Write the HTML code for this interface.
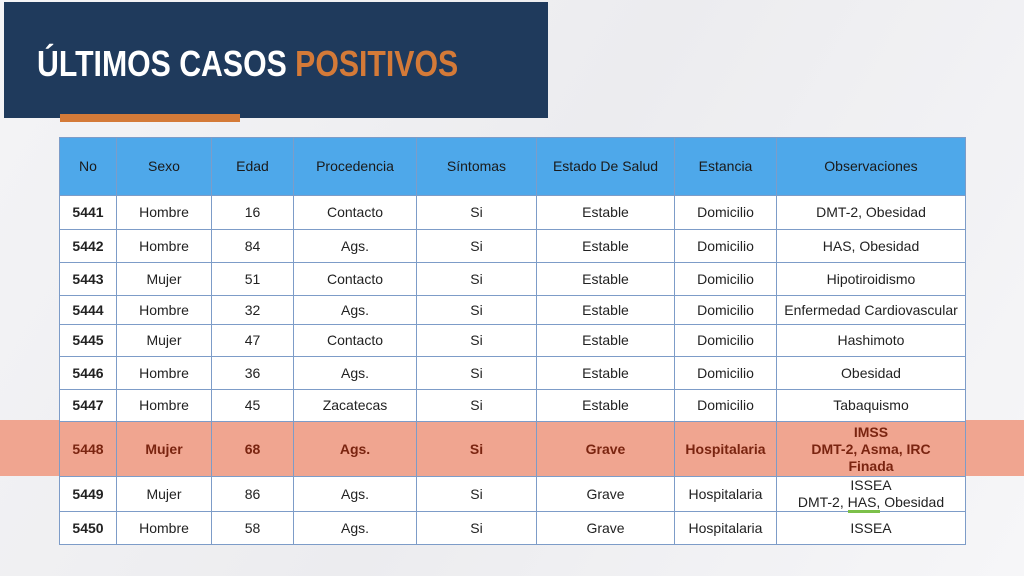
<!DOCTYPE html>
<html><head><meta charset="utf-8"><style>
*{margin:0;padding:0;box-sizing:border-box}
body{width:1024px;height:576px;overflow:hidden;background:linear-gradient(120deg,#f4f4f6,#ececef 50%,#f6f6f8);font-family:"Liberation Sans",sans-serif;position:relative}
.hdr{position:absolute;left:4px;top:2px;width:544px;height:116px;background:#1f3a5c}
.title{position:absolute;left:37px;top:43px;font-size:36px;font-weight:bold;color:#fff;letter-spacing:0;transform:scaleX(0.84);transform-origin:left;white-space:nowrap}
.title span{color:#d47a38}
.bar{position:absolute;left:60px;top:114px;width:180px;height:8px;background:#d47a38}
table{position:absolute;left:59px;top:137px;border-collapse:collapse;font-size:14px;color:#222;z-index:2}
td,th{border:1px solid #7d9cc8;text-align:center;font-weight:normal;padding:0;line-height:17px;background:#fff}
th{background:#4ea8ea;color:#1a1a1a}
td:first-child{font-weight:bold}
tr.hl td{background:transparent;color:#7a2410;font-weight:bold}
.band{position:absolute;left:0;top:420px;width:1024px;height:56px;background:#f0a590;z-index:1}
</style></head><body>
<div class="hdr"></div>
<div class="title">ÚLTIMOS CASOS <span>POSITIVOS</span></div>
<div class="bar"></div>
<div class="band"></div>
<table>
<colgroup><col style="width:57px"><col style="width:95px"><col style="width:82px"><col style="width:123px"><col style="width:120px"><col style="width:138px"><col style="width:102px"><col style="width:189px"></colgroup>
<tr style="height:58px"><th>No</th><th>Sexo</th><th>Edad</th><th>Procedencia</th><th>Síntomas</th><th>Estado De Salud</th><th>Estancia</th><th>Observaciones</th></tr>
<tr style="height:34px"><td>5441</td><td>Hombre</td><td>16</td><td>Contacto</td><td>Si</td><td>Estable</td><td>Domicilio</td><td>DMT-2, Obesidad</td></tr>
<tr style="height:33px"><td>5442</td><td>Hombre</td><td>84</td><td>Ags.</td><td>Si</td><td>Estable</td><td>Domicilio</td><td>HAS, Obesidad</td></tr>
<tr style="height:33px"><td>5443</td><td>Mujer</td><td>51</td><td>Contacto</td><td>Si</td><td>Estable</td><td>Domicilio</td><td>Hipotiroidismo</td></tr>
<tr style="height:29px"><td>5444</td><td>Hombre</td><td>32</td><td>Ags.</td><td>Si</td><td>Estable</td><td>Domicilio</td><td>Enfermedad Cardiovascular</td></tr>
<tr style="height:32px"><td>5445</td><td>Mujer</td><td>47</td><td>Contacto</td><td>Si</td><td>Estable</td><td>Domicilio</td><td>Hashimoto</td></tr>
<tr style="height:33px"><td>5446</td><td>Hombre</td><td>36</td><td>Ags.</td><td>Si</td><td>Estable</td><td>Domicilio</td><td>Obesidad</td></tr>
<tr style="height:32px"><td>5447</td><td>Hombre</td><td>45</td><td>Zacatecas</td><td>Si</td><td>Estable</td><td>Domicilio</td><td>Tabaquismo</td></tr>
<tr class="hl" style="height:55px"><td>5448</td><td>Mujer</td><td>68</td><td>Ags.</td><td>Si</td><td>Grave</td><td>Hospitalaria</td><td>IMSS<br>DMT-2, Asma, IRC<br>Finada</td></tr>
<tr style="height:34px"><td>5449</td><td>Mujer</td><td>86</td><td>Ags.</td><td>Si</td><td>Grave</td><td>Hospitalaria</td><td>ISSEA<br>DMT-2, <span style="border-bottom:3px solid #7cc04a">HAS,</span> Obesidad</td></tr>
<tr style="height:33px"><td>5450</td><td>Hombre</td><td>58</td><td>Ags.</td><td>Si</td><td>Grave</td><td>Hospitalaria</td><td>ISSEA</td></tr>
</table>
</body></html>
